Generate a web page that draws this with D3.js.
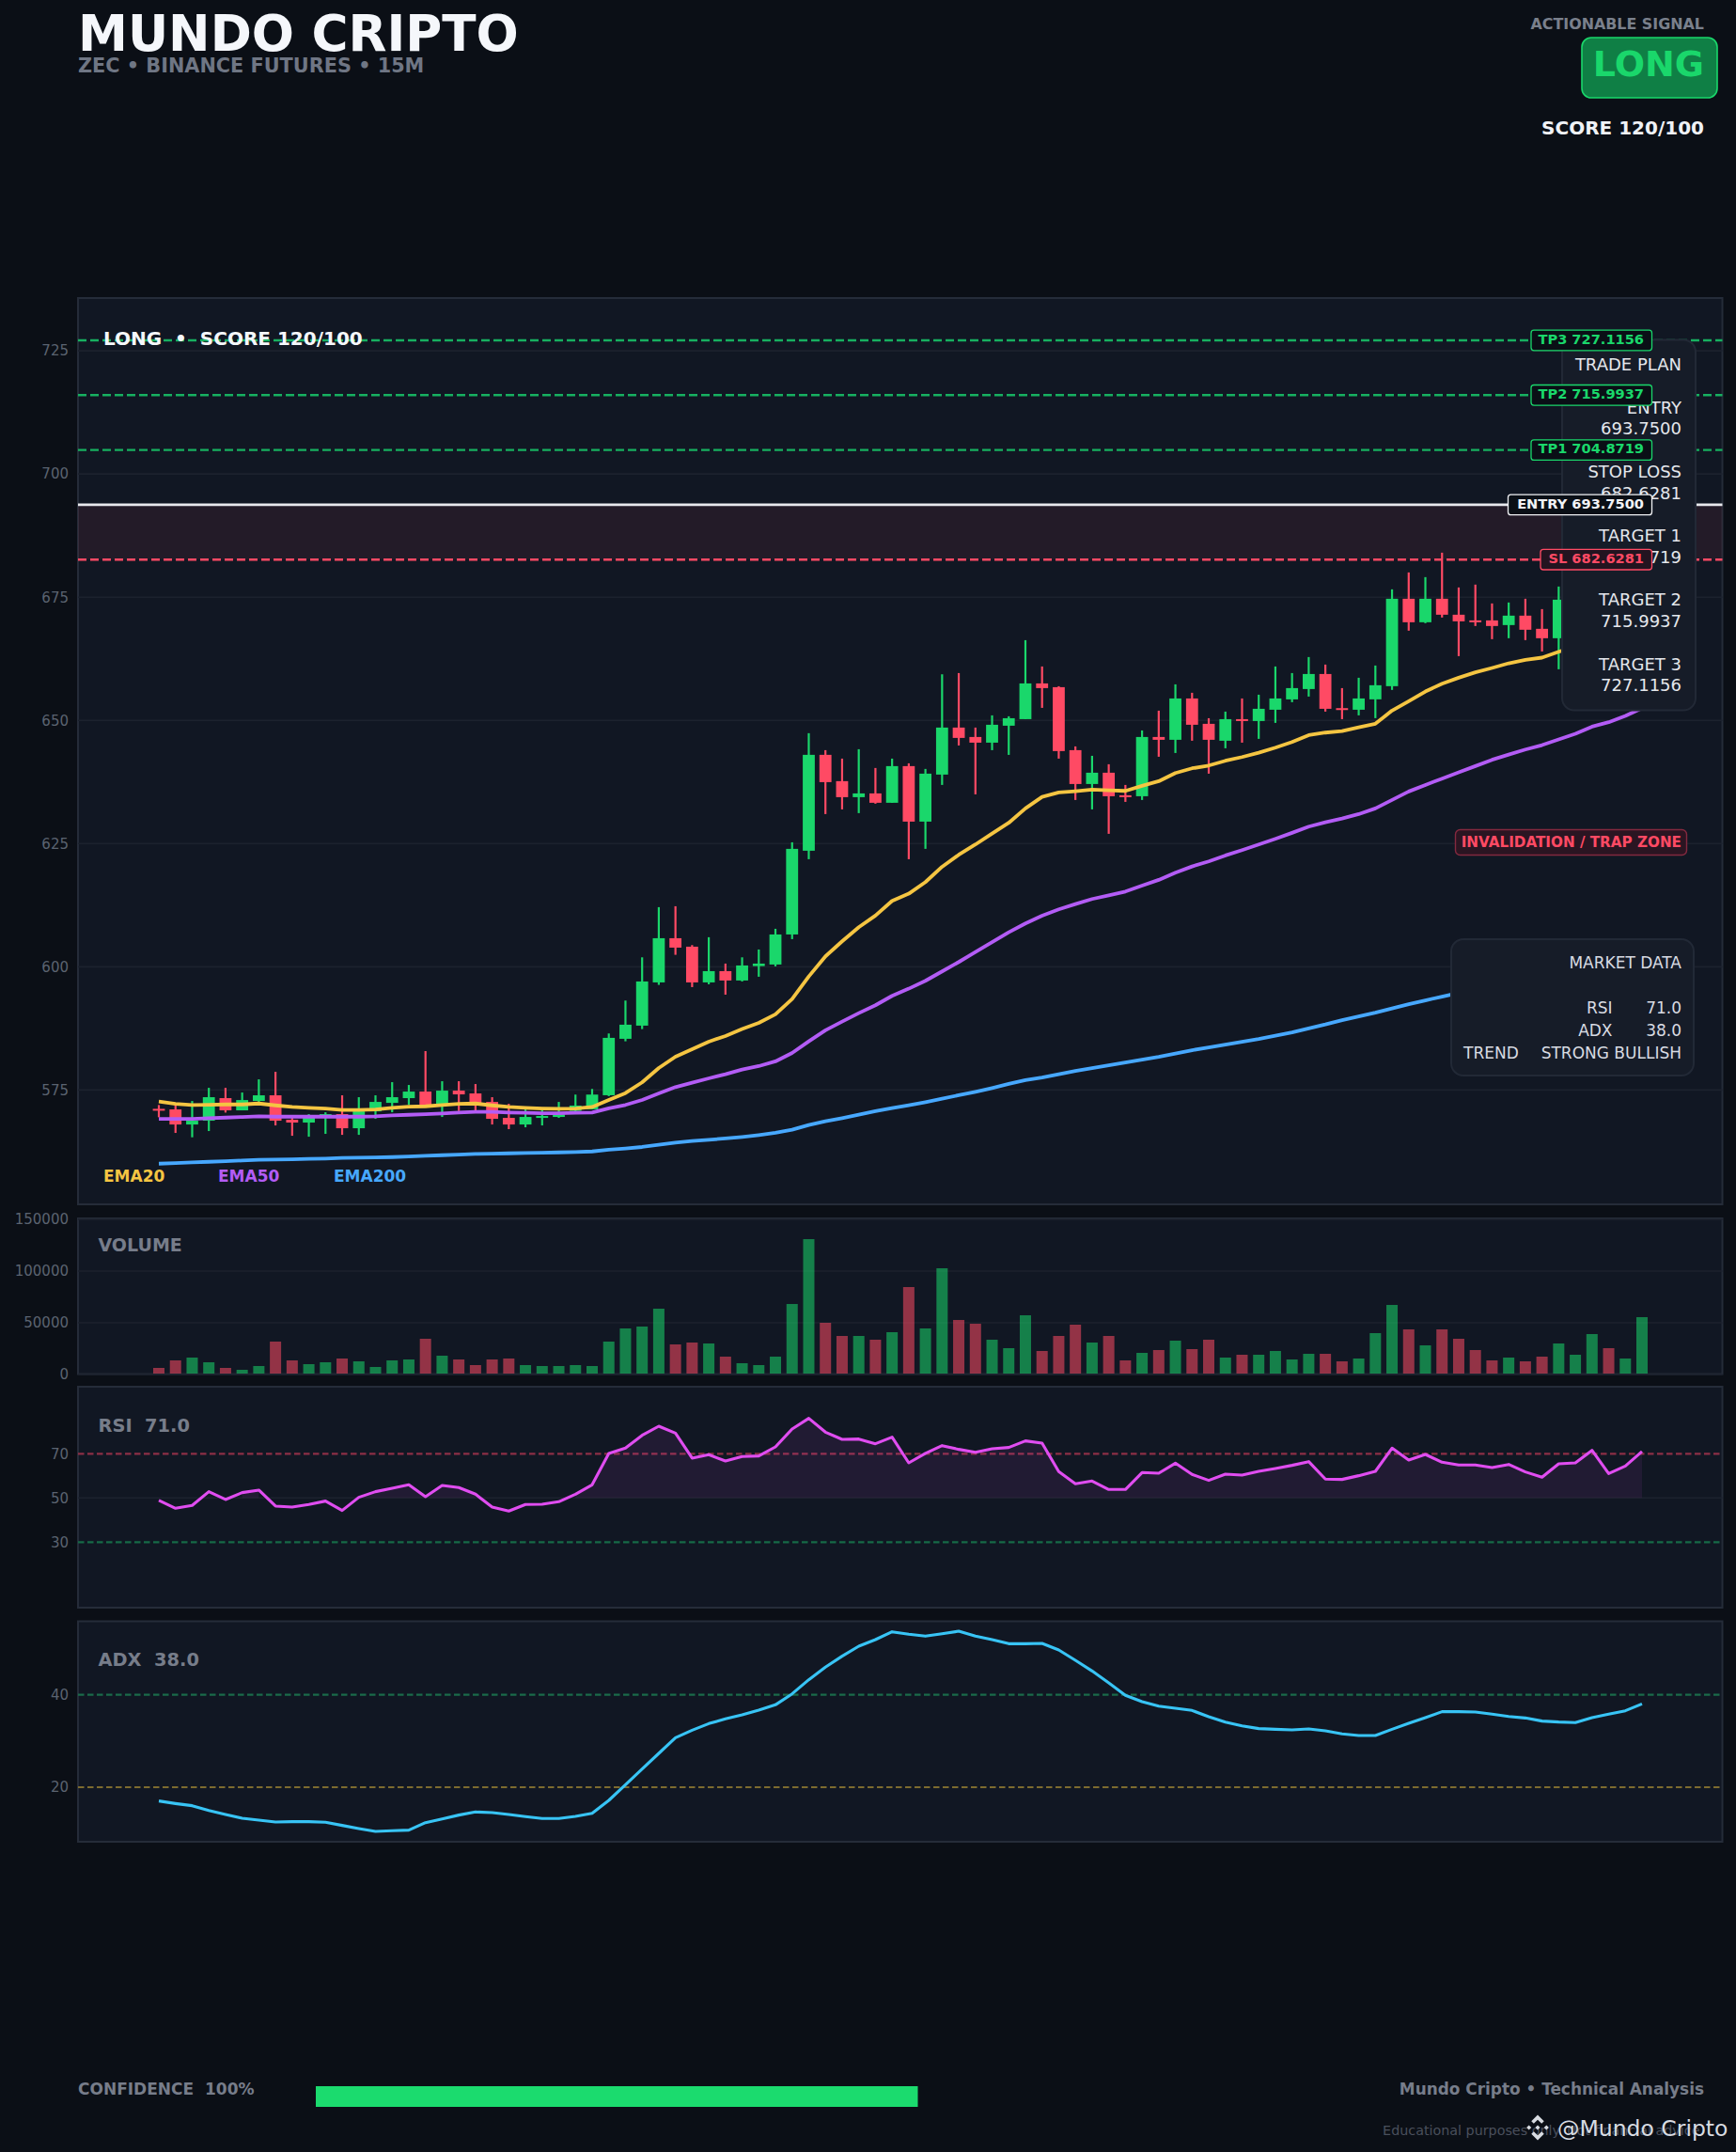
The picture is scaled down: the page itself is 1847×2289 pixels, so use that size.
<!DOCTYPE html>
<html>
<head>
<meta charset="utf-8">
<title>Mundo Cripto</title>
<script src="https://cdn.jsdelivr.net/npm/d3@7"></script>
<style>
html, body { margin: 0; padding: 0; background: #0b0f16; }
svg { display: block; font-family: "DejaVu Sans", sans-serif; }
</style>
</head>
<body>
<div id="chart"></div>
<script>
"use strict";

var opens = [571.18,571.06,568.0,568.77,573.35,570.87,572.77,573.92,568.96,568.39,569.85,570.10,567.24,570.67,572.39,573.35,574.68,571.82,574.87,574.30,572.58,569.34,568.0,569.4,569.53,570.76,571.08,573.94,585.39,588.06,596.83,605.8,604.08,596.83,599.12,597.22,600.14,600.46,606.56,623.55,643.01,637.67,634.42,635.18,633.28,640.72,629.46,639.0,648.54,646.63,645.48,648.92,650.25,657.5,656.74,643.96,637.09,639.38,634.8,634.61,646.63,646.06,654.45,649.3,645.87,650.25,649.87,652.16,654.26,656.36,659.41,652.48,652.16,654.27,656.94,674.68,669.91,674.68,671.44,670.29,670.29,669.34,671.25,668.58,666.67,674.5,676,680,678,680];
var highs = [571.95,571.95,572.77,575.44,575.44,574.49,577.16,578.69,569.47,570.10,570.48,573.92,573.54,573.92,576.59,576.02,582.89,576.78,576.78,576.21,573.54,572.2,571.06,571.06,572.58,574.07,575.21,586.47,593.15,601.92,612.1,612.29,604.4,606.0,600.65,601.92,603.51,607.71,625.26,647.4,643.96,642.24,644.15,640.34,642.24,641.29,640.15,659.35,659.6,648.54,651.02,650.83,666.28,660.94,656.93,644.72,642.81,641.1,636.9,647.96,651.97,657.31,655.6,650.44,651.78,654.45,655.21,660.94,659.6,662.85,661.32,656.55,658.65,661.13,676.59,680.02,679.07,684.03,676.97,677.55,673.73,673.92,674.68,672.58,677.16,678,682,681,682,695];
var lows = [569.47,566.29,565.4,566.67,570.42,570.87,571.95,567.81,565.71,565.52,566.10,565.9,565.9,569.15,570.48,572.01,571.82,569.53,570.74,570.74,568.0,567.05,567.43,567.81,569.34,570.44,571.08,573.75,584.88,587.36,596.33,602.43,595.88,596.45,594.35,597.02,597.98,600.08,605.61,621.83,630.99,631.94,631.18,633.09,633.28,621.83,623.93,636.9,644.91,634.99,643.96,643.0,650.25,652.54,642.24,633.85,631.94,626.98,633.46,633.85,642.62,643.38,645.87,639.19,644.34,645.48,646.25,649.49,653.69,654.83,651.78,650.25,651.02,650.45,656.18,668.2,669.72,670.87,663.04,669.15,666.48,666.67,666.29,663.98,660.37,672,675,677,677,679];
var closes = [570.93,568.0,568.77,573.54,570.87,572.96,573.92,568.77,568.39,569.53,570.10,567.24,570.67,572.58,573.54,574.68,571.82,574.87,574.11,571.82,569.15,568.0,569.53,569.72,570.04,571.84,574.07,585.58,588.25,597.02,605.8,603.89,596.83,599.12,597.22,600.27,600.65,606.56,623.93,643.01,637.47,634.42,635.18,633.28,640.72,629.46,639.19,648.54,646.44,645.48,649.11,650.44,657.5,656.55,643.77,637.09,639.38,634.61,634.61,646.63,646.06,654.45,649.11,646.06,650.25,649.87,652.35,654.45,656.55,659.41,652.35,652.23,654.45,657.13,674.68,669.91,674.68,671.44,670.1,670.1,669.15,671.25,668.39,666.67,674.49,676,680,678,680,693.75];
var volumes = [6363,13635,16362,11817,6363,4545,8181,31815,13635,9999,11817,15453,12726,7272,13635,14544,34542,18180,14544,9090,14544,15453,9090,8181,8181,9090,8181,31815,44541,46359,63630,29088,30906,29997,17271,10908,9090,17271,68175,130896,49995,37269,37269,33633,40905,84537,44541,102717,52722,49086,33633,25452,57267,22725,37269,48177,30906,37269,13635,20907,23634,32724,24543,33633,16362,19089,19089,22725,14544,19998,19998,12726,15453,39996,67266,43632,28179,43632,34542,23634,13635,16362,12726,17271,29997,19089,39087,25452,15453,55449];
var ema20 = [572.65,572.2,571.95,572.01,572.07,572.07,572.26,571.88,571.56,571.37,571.25,570.93,570.93,571.06,571.37,571.63,571.69,571.95,572.2,572.26,571.88,571.56,571.37,571.25,571.18,571.25,571.56,572.98,574.38,576.55,579.47,581.76,583.29,584.81,585.96,587.36,588.63,590.35,593.46,598.04,602.11,605.17,608.03,610.38,613.37,614.83,617.19,620.3,622.72,624.82,627.04,629.21,632.13,634.48,635.37,635.63,635.94,635.82,635.69,636.71,637.66,639.31,640.27,640.84,641.8,642.56,643.45,644.47,645.61,647.01,647.52,647.84,648.6,649.31,651.98,653.89,655.86,657.45,658.66,659.74,660.63,661.58,662.28,662.73,663.93,665,666.2,667,668,669];
var ema50 = [569.15,569.15,569.15,569.28,569.4,569.53,569.66,569.59,569.59,569.59,569.59,569.59,569.59,569.66,569.85,569.97,570.1,570.23,570.42,570.55,570.55,570.42,570.36,570.29,570.29,570.36,570.42,571.27,571.97,572.98,574.32,575.59,576.48,577.37,578.2,579.15,579.85,580.81,582.52,584.88,587.11,588.88,590.6,592.19,594.1,595.56,597.15,599.06,600.97,603.0,605.0,607.01,608.79,610.38,611.65,612.73,613.75,614.51,615.27,616.48,617.63,619.09,620.36,621.38,622.59,623.67,624.81,625.96,627.17,628.44,629.33,630.09,630.98,632.13,633.85,635.57,636.9,638.18,639.45,640.72,642.0,643.07,644.09,644.98,646.13,647.27,648.73,649.63,650.9,652.49];
var ema200 = [560.05,560.18,560.31,560.43,560.56,560.69,560.82,560.88,560.94,561.01,561.07,561.2,561.26,561.33,561.39,561.52,561.64,561.77,561.9,562.02,562.09,562.15,562.22,562.28,562.34,562.41,562.53,562.87,563.13,563.44,563.89,564.33,564.65,564.91,565.16,565.48,565.86,566.31,566.94,567.9,568.66,569.3,570.0,570.69,571.33,571.9,572.54,573.24,573.94,574.64,575.4,576.23,576.99,577.54,578.21,578.87,579.45,580.02,580.59,581.16,581.74,582.4,583.07,583.65,584.22,584.79,585.36,586.03,586.7,587.5,588.3,589.18,589.94,590.71,591.56,592.42,593.19,593.95,594.71,595.5,596.3,597.1,597.9,598.7,599.5,600.3,601.1,601.9,602.7,603.5];
var rsi = [48.87,45.32,46.6,52.84,49.29,52.41,53.55,46.31,45.89,47.02,48.58,44.33,50.28,52.84,54.4,55.96,50.57,55.67,54.68,51.7,45.89,44.04,47.02,47.16,48.3,51.7,55.96,70.14,72.55,78.36,82.47,79.35,68.01,69.57,66.73,68.72,69.0,73.11,81.2,86.02,79.78,76.52,76.66,74.53,77.51,65.88,70.14,73.68,71.98,70.7,72.26,72.83,75.81,74.82,61.91,56.38,57.66,53.83,53.83,61.49,61.2,65.74,60.64,57.94,60.78,60.35,62.05,63.33,64.75,66.45,58.51,58.37,60.07,62.05,72.55,67.16,69.71,66.17,64.89,64.89,63.75,65.17,61.77,59.36,65.46,65.88,71.55,61.06,64.46,71.0];
var adx = [17.02,16.47,16.0,14.98,14.1,13.29,12.88,12.47,12.54,12.54,12.41,11.73,11.05,10.44,10.58,10.71,12.34,13.15,13.97,14.64,14.51,14.1,13.63,13.22,13.22,13.69,14.37,17.15,20.54,23.93,27.32,30.71,32.34,33.76,34.78,35.66,36.68,37.83,40.2,43.26,45.97,48.34,50.51,51.93,53.63,53.09,52.68,53.22,53.76,52.68,51.93,51.05,51.05,51.12,49.7,47.46,45.15,42.58,39.87,38.51,37.56,37.09,36.61,35.26,34.1,33.29,32.68,32.54,32.41,32.61,32.2,31.53,31.19,31.19,32.54,33.83,35.05,36.34,36.34,36.27,35.8,35.32,34.98,34.31,34.1,33.97,35.05,35.8,36.54,38.03];

var priceTicks = [575, 600, 625, 650, 675, 700, 725];
var volumeTicks = [0, 50000, 100000, 150000];
var rsiTicks = [30, 50, 70];
var adxTicks = [20, 40];

var entry = 693.75, stopLoss = 682.6281;
var targets = [
	{ name: "TP1", value: 704.8719 },
	{ name: "TP2", value: 715.9937 },
	{ name: "TP3", value: 727.1156 }
];
var planLines = ["TRADE PLAN", "", "ENTRY", "693.7500", "", "STOP LOSS", "682.6281", "", "TARGET 1", "704.8719", "", "TARGET 2", "715.9937", "", "TARGET 3", "727.1156"];

var WIDTH = 1847, HEIGHT = 2289;
var LEFT = 83, RIGHT = 1832.5;
var GREEN = "#1ad76b", RED = "#ff4a64", GREY = "#777d8a", GRID = "#1c222e";
var PANEL_BG = "#111723", FRAME = "#252c39", PAGE_BG = "#0b0f16";

var candles = d3.range(opens.length);

var svg = d3.select("#chart").append("svg")
	.attr("width", WIDTH)
	.attr("height", HEIGHT);

svg.append("rect").attr("width", WIDTH).attr("height", HEIGHT).attr("fill", PAGE_BG);

var x = d3.scaleLinear().domain([0, 89]).range([169, 1747]);
var yPrice = d3.scaleLinear().domain([551.8, 735.7]).range([1281, 317]);
var yVolume = d3.scaleLinear().domain([0, 150000]).range([1462, 1297]);
var yRsi = d3.scaleLinear().domain([0, 100]).range([1710.8, 1475.8]);
var yAdx = d3.scaleLinear().domain([8.2, 55.9]).range([1959, 1724.5]);

function hline(parent, y, color, width, dash) {
	parent.append("line")
		.attr("x1", LEFT).attr("x2", RIGHT)
		.attr("y1", y).attr("y2", y)
		.attr("stroke", color)
		.attr("stroke-width", width)
		.attr("stroke-dasharray", dash || null);
}

// panel background, grid and the tick labels on the left
function addPanel(top, bottom, scale, ticks) {
	var g = svg.append("g");
	g.append("rect")
		.attr("x", LEFT).attr("y", top)
		.attr("width", RIGHT - LEFT).attr("height", bottom - top)
		.attr("fill", PANEL_BG)
		.attr("stroke", FRAME)
		.attr("stroke-width", 2);
	var axis = d3.axisLeft(scale).tickValues(ticks).tickSize(0).tickPadding(0).tickFormat(d3.format("d"));
	var ax = g.append("g").attr("transform", "translate(73,0)").call(axis);
	ax.select(".domain").remove();
	ax.selectAll("text")
		.attr("fill", "#5b6370")
		.style("font-family", "DejaVu Sans")
		.style("font-size", "15px");
	ticks.forEach(function(t) {
		hline(g, scale(t), GRID, 1.6);
	});
	return g;
}

function drawLine(parent, values, scale, color, width) {
	var line = d3.line()
		.x(function(d) { return x(d); })
		.y(function(d) { return scale(values[d]); });
	parent.append("path")
		.datum(candles)
		.attr("fill", "none")
		.attr("stroke", color)
		.attr("stroke-width", width)
		.attr("stroke-linejoin", "round")
		.attr("d", line);
}

function label(parent, txt, px, py, size, color, anchor, weight) {
	return parent.append("text")
		.attr("x", px).attr("y", py)
		.attr("fill", color)
		.attr("text-anchor", anchor || "start")
		.attr("font-weight", weight || "normal")
		.style("font-size", size + "px")
		.style("white-space", "pre")
		.text(txt);
}

// header
label(svg, "MUNDO CRIPTO", 83, 54, 53.2, "#f5f7fb", "start", "bold");
label(svg, "ZEC • BINANCE FUTURES • 15M", 83, 77, 20.8, "#6f7684", "start", "bold");
label(svg, "ACTIONABLE SIGNAL", 1813, 31, 15.9, "#7a808c", "end", "bold");
svg.append("rect")
	.attr("x", 1683).attr("y", 40)
	.attr("width", 144).attr("height", 64)
	.attr("rx", 10)
	.attr("fill", "#0f7f45")
	.attr("stroke", GREEN)
	.attr("stroke-width", 1.6);
label(svg, "LONG", 1813, 81, 38, GREEN, "end", "bold");
label(svg, "SCORE 120/100", 1813, 143, 20, "#f0f2f6", "end", "bold");

// price panel
var main = addPanel(317, 1281, yPrice, priceTicks);

main.append("rect")
	.attr("x", LEFT).attr("width", RIGHT - LEFT)
	.attr("y", yPrice(entry))
	.attr("height", yPrice(stopLoss) - yPrice(entry))
	.attr("fill", RED)
	.attr("fill-opacity", 0.08);

targets.forEach(function(t) {
	hline(main, yPrice(t.value), "#17b060", 2.4, "9,4");
});
hline(main, yPrice(entry), "#e8e9ed", 2.8);
hline(main, yPrice(stopLoss), RED, 2.4, "9,4");

main.selectAll("line.wick")
	.data(candles)
	.enter().append("line")
	.attr("class", "wick")
	.attr("x1", function(d) { return x(d); })
	.attr("x2", function(d) { return x(d); })
	.attr("y1", function(d) { return yPrice(highs[d]); })
	.attr("y2", function(d) { return yPrice(lows[d]); })
	.attr("stroke", function(d) { return closes[d] >= opens[d] ? GREEN : RED; })
	.attr("stroke-width", 2.2);

main.selectAll("rect.body")
	.data(candles)
	.enter().append("rect")
	.attr("class", "body")
	.attr("x", function(d) { return x(d) - 6.4; })
	.attr("width", 12.8)
	.attr("y", function(d) { return yPrice(Math.max(opens[d], closes[d])); })
	.attr("height", function(d) { return Math.max(2, Math.abs(yPrice(opens[d]) - yPrice(closes[d]))); })
	.attr("fill", function(d) { return closes[d] >= opens[d] ? GREEN : RED; });

drawLine(main, ema200, yPrice, "#47a8ff", 3.8);
drawLine(main, ema50, yPrice, "#b35cf5", 3.8);
drawLine(main, ema20, yPrice, "#f5c542", 3.8);

label(main, "LONG  •  SCORE 120/100", 110, 367, 20, "#f5f7fb", "start", "bold");
label(main, "EMA20", 110, 1257, 17, "#f5c542", "start", "bold");
label(main, "EMA50", 232, 1257, 17, "#b35cf5", "start", "bold");
label(main, "EMA200", 355, 1257, 17, "#47a8ff", "start", "bold");

// trap zone tag
main.append("rect")
	.attr("x", 1548.5).attr("y", 882.5)
	.attr("width", 246).attr("height", 27)
	.attr("rx", 5)
	.attr("fill", "#2b1522")
	.attr("stroke", "#83293f")
	.attr("stroke-width", 1.4);
label(main, "INVALIDATION / TRAP ZONE", 1789, 901, 15.2, RED, "end", "bold");

// info boxes, these hide whatever is under them
main.append("rect")
	.attr("x", 1662).attr("y", 361.5)
	.attr("width", 142).attr("height", 394)
	.attr("rx", 13)
	.attr("fill", "#161c28")
	.attr("stroke", "#222936")
	.attr("stroke-width", 2);
planLines.forEach(function(t, i) {
	if (t) {
		label(main, t, 1789, 394 + i * 22.75, 18, "#e4e7ec", "end");
	}
});

main.append("rect")
	.attr("x", 1544).attr("y", 999)
	.attr("width", 258).attr("height", 145)
	.attr("rx", 13)
	.attr("fill", "#161c28")
	.attr("stroke", "#222936")
	.attr("stroke-width", 2);
label(main, "MARKET DATA", 1789, 1030, 17, "#d8dbe2", "end");
label(main, "RSI", 1715.5, 1077.5, 17, "#d8dbe2", "end");
label(main, "71.0", 1789, 1077.5, 17, "#d8dbe2", "end");
label(main, "ADX", 1715.5, 1101.5, 17, "#d8dbe2", "end");
label(main, "38.0", 1789, 1101.5, 17, "#d8dbe2", "end");
label(main, "TREND", 1557, 1125.5, 17, "#d8dbe2", "start");
label(main, "STRONG BULLISH", 1789, 1125.5, 17, "#d8dbe2", "end");

// price tags on top of the boxes
function priceTag(txt, value, left, color, fill) {
	var py = yPrice(value);
	main.append("rect")
		.attr("x", left).attr("y", py - 10.8)
		.attr("width", 1757.5 - left).attr("height", 21.6)
		.attr("rx", 3)
		.attr("fill", fill)
		.attr("stroke", color)
		.attr("stroke-width", 1.3);
	label(main, txt, 1749, py + 3.8, 14.6, color, "end", "bold");
}
targets.slice().reverse().forEach(function(t) {
	priceTag(t.name + " " + t.value.toFixed(4), t.value, 1629, GREEN, "#0a0f16");
});
priceTag("ENTRY " + entry.toFixed(4), entry, 1604.5, "#f2f3f6", "#0a0f16");
priceTag("SL " + stopLoss.toFixed(4), stopLoss, 1639, RED, "#231420");

// volume
var vol = addPanel(1296, 1461.5, yVolume, volumeTicks);
vol.selectAll("rect.bar")
	.data(candles)
	.enter().append("rect")
	.attr("class", "bar")
	.attr("x", function(d) { return x(d) - 6; })
	.attr("width", 12)
	.attr("y", function(d) { return yVolume(volumes[d]); })
	.attr("height", function(d) { return Math.max(0, 1461 - yVolume(volumes[d])); })
	.attr("fill", function(d) { return closes[d] >= opens[d] ? GREEN : RED; })
	.attr("fill-opacity", 0.55);
label(vol, "VOLUME", 104.5, 1331, 19, GREY, "start", "bold");

// rsi
var rsiPanel = addPanel(1475, 1710, yRsi, rsiTicks);
rsiPanel.selectAll("line").filter(function() { return +d3.select(this).attr("y1") !== yRsi(50); }).remove();
hline(rsiPanel, yRsi(70), "#8c2f46", 2.2, "6.5,3.5");
hline(rsiPanel, yRsi(30), "#166a47", 2.2, "6.5,3.5");
var rsiArea = d3.area()
	.defined(function(d) { return rsi[d] > 50; })
	.x(function(d) { return x(d); })
	.y0(yRsi(50))
	.y1(function(d) { return yRsi(rsi[d]); });
rsiPanel.append("path")
	.datum(candles)
	.attr("fill", "#e04df0")
	.attr("fill-opacity", 0.08)
	.attr("d", rsiArea);
drawLine(rsiPanel, rsi, yRsi, "#e04df0", 3.1);
label(rsiPanel, "RSI  71.0", 104.5, 1523, 19.4, GREY, "start", "bold");

// adx
var adxPanel = addPanel(1724.5, 1959, yAdx, adxTicks);
adxPanel.selectAll("line").remove();
hline(adxPanel, yAdx(40), "#1a6b4a", 2.2, "6.5,3.5");
hline(adxPanel, yAdx(20), "#7d6b2f", 2.2, "6.5,3.5");
drawLine(adxPanel, adx, yAdx, "#38c4f5", 3.1);
label(adxPanel, "ADX  38.0", 104.5, 1772, 19.4, GREY, "start", "bold");

// footer
label(svg, "CONFIDENCE  100%", 83, 2228, 17, GREY, "start", "bold");
var confidence = d3.scaleLinear().domain([0, 100]).range([336, 976.5]);
svg.append("rect")
	.attr("x", confidence(0)).attr("y", 2219)
	.attr("width", confidence(100) - confidence(0)).attr("height", 22)
	.attr("fill", "#1bdb6e");
label(svg, "Mundo Cripto • Technical Analysis", 1813, 2228, 16.9, GREY, "end", "bold");
label(svg, "Educational purposes only. Not financial advice.", 1813, 2271, 14.3, "#4a505c", "end");

// binance mark + handle
var mark = svg.append("g").attr("transform", "translate(1636,2263) scale(13.5)").attr("fill", "#d8dce2");
[
	"M0,-1L.5,-.5L.31,-.31L0,-.62L-.31,-.31L-.5,-.5Z",
	"M0,1L.5,.5L.31,.31L0,.62L-.31,.31L-.5,.5Z",
	"M0,-.19L.19,0L0,.19L-.19,0Z",
	"M-.69,-.19L-.5,0L-.69,.19L-.88,0Z",
	"M.69,-.19L.88,0L.69,.19L.5,0Z"
].forEach(function(p) {
	mark.append("path").attr("d", p);
});
label(svg, "@Mundo Cripto", 1657, 2272, 23.5, "#d8dce2", "start");
</script>
</body>
</html>
